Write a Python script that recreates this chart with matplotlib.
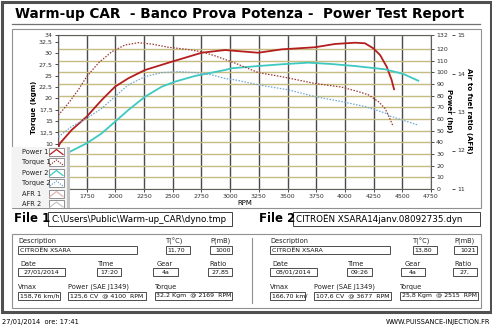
import matplotlib
matplotlib.use("Agg")
import matplotlib.pyplot as plt
from matplotlib.patches import Rectangle

W, H = 492, 329

# ---- curves ----
rpm_p1 = [1500, 1517, 1619, 1750, 1881, 1997, 2113, 2258, 2491, 2752, 2955, 3245,
          3449, 3739, 3913, 4088, 4175, 4247, 4306, 4364, 4407, 4428]
power_1 = [35.1, 39.2, 50.6, 62.0, 76.3, 87.7, 94.9, 102.0, 109.1, 116.8, 119.1, 116.8,
           119.7, 121.5, 124.3, 125.4, 124.9, 120.6, 114.9, 104.8, 93.4, 85.5]

rpm_t1 = [1503, 1590, 1677, 1750, 1851, 1968, 2084, 2200, 2316, 2461, 2635, 2752,
          2868, 3042, 3245, 3449, 3739, 3972, 4117, 4204, 4291, 4349, 4378, 4421]
torque_1 = [16.3, 18.9, 21.9, 24.8, 27.8, 30.3, 31.8, 32.3, 32.0, 31.3, 30.8, 30.3,
            29.4, 27.8, 25.7, 24.8, 23.3, 22.5, 21.5, 20.8, 19.3, 17.8, 16.3, 13.8]

rpm_p2 = [1500, 1605, 1750, 1881, 1997, 2113, 2258, 2404, 2519, 2694, 2839, 2955,
          3013, 3245, 3449, 3681, 3885, 4088, 4349, 4509, 4639]
power_2 = [26.5, 32.0, 39.2, 47.7, 57.7, 67.7, 79.1, 87.7, 92.0, 96.9, 99.7, 102.0,
           103.5, 105.4, 106.9, 108.3, 107.1, 105.4, 102.6, 98.6, 92.8]

rpm_t2 = [1503, 1619, 1750, 1881, 1997, 2113, 2258, 2404, 2548, 2694, 2839, 2955,
          3042, 3245, 3507, 3739, 3972, 4175, 4349, 4393, 4639]
torque_2 = [11.5, 13.8, 15.6, 17.8, 20.4, 23.0, 24.8, 25.7, 25.9, 25.7, 25.2, 24.4,
            24.1, 23.0, 21.9, 20.4, 19.3, 18.2, 16.8, 16.1, 14.1]

rpm_ticks = list(range(1500, 4751, 250))
power_ticks = [0, 10, 20, 30, 40, 50, 60, 70, 80, 90, 100, 110, 120, 132]
torque_ticks = [10, 12.5, 15, 17.5, 20, 22.5, 25, 27.5, 30, 32.5, 34]
afr_ticks = [11, 12, 13, 14, 15]

legend_names = ["Power 1", "Torque 1", "Power 2", "Torque 2", "AFR 1", "AFR 2"]

title = "Warm-up CAR  - Banco Prova Potenza -  Power Test Report"
file_1 = r"C:\Users\Public\Warm-up_CAR\dyno.tmp"
file_2 = "CITROËN XSARA14janv.08092735.dyn"

field_names = ["Description", "T(°C)", "P(mB)", "Date", "Time", "Gear", "Ratio",
               "Vmax", "Power (SAE J1349)", "Torque"]
values_1 = ["CITROËN XSARA", "11,70", "1000", "27/01/2014", "17:20", "4a", "27,85",
            "158,76 km/h", "125,6 CV  @ 4100  RPM", "32,2 Kgm  @ 2169  RPM"]
values_2 = ["CITROËN XSARA", "13,80", "1021", "08/01/2014", "09:26", "4a", "27,",
            "166,70 km/", "107,6 CV  @ 3677  RPM", "25,8 Kgm  @ 2515  RPM"]
footer_left = "27/01/2014  ore: 17:41"
footer_right = "WWW.PUISSANCE-INJECTION.FR"

# ---- colours ----
c_p1, c_t1 = "#b41e1e", "#9a3a30"
c_p2, c_t2 = "#3ec8c2", "#6ea6d6"
c_afr1, c_afr2 = "#e6b4b4", "#c8c8c8"


def box(x0, y0, x1, y1):
    return [x0 / W, 1 - y1 / H, (x1 - x0) / W, (y1 - y0) / H]


fig = plt.figure(figsize=(W / 100, H / 100), dpi=100)

# background layer in pixel coords
bg = fig.add_axes([0, 0, 1, 1], zorder=0)
bg.set_xlim(0, W)
bg.set_ylim(H, 0)
bg.axis("off")

bg.add_patch(Rectangle((1.5, 1.5), W - 3, 310, fill=False, ec="#505050", lw=2.2))
bg.text(15, 14, title, fontsize=9.8, fontweight="bold", va="center", ha="left")
bg.plot([12, 480], [23.5, 23.5], color="#707070", lw=0.9)

# chart panel
bg.add_patch(Rectangle((12, 29), 469, 179, fc="white", ec="#909090", lw=0.8))

# axis titles
bg.text(34, 107, "Torque (kgm)", rotation=90, fontsize=5, fontweight="bold",
        ha="center", va="center")
bg.text(449, 111, "Power (hp)", rotation=270, fontsize=5, fontweight="bold",
        ha="center", va="center")
bg.text(469, 111, "Air to fuel ratio (AFR)", rotation=270, fontsize=5,
        fontweight="bold", ha="center", va="center")
bg.text(245, 203, "RPM", fontsize=5, ha="center", va="center")

# ---- main chart ----
ax_p = fig.add_axes(box(58, 35, 431, 189), zorder=2)
ax_p.set_xlim(1500, 4750)
ax_p.set_ylim(0, 132)
ax_p.set_facecolor("white")
ax_p.set_xticks(rpm_ticks)
ax_p.set_xticklabels([""] + [str(r) for r in rpm_ticks[1:]])
ax_p.set_yticks(power_ticks)
ax_p.grid(axis="y", color="#c4bc80", lw=1.0)
ax_p.grid(axis="x", color="#4a4a4a", lw=1.0)
for s in ax_p.spines.values():
    s.set_color("#606060")
    s.set_linewidth(0.8)

ax_p.plot(rpm_p1, power_1, color=c_p1, lw=1.3, zorder=3)
ax_p.plot(rpm_p2, power_2, color=c_p2, lw=1.3, zorder=3)

ax_t = ax_p.twinx()
ax_t.set_ylim(0, 34)
ax_t.set_yticks(torque_ticks)
ax_t.set_yticklabels([("%g" % t).replace(".", ",") for t in torque_ticks])
for s in ax_t.spines.values():
    s.set_visible(False)
ax_t.plot(rpm_t1, torque_1, color=c_t1, lw=0.9, ls=(0, (1.2, 1.2)))
ax_t.plot(rpm_t2, torque_2, color=c_t2, lw=0.9, ls=(0, (1.2, 1.2)))

ax_a = ax_p.twinx()
ax_a.set_ylim(11, 15)
ax_a.set_yticks(afr_ticks)
ax_a.spines["right"].set_position(("outward", 15))
for s in ax_a.spines.values():
    s.set_visible(False)

# twinx moves the host ticks to the left, so set sides at the end
ax_p.yaxis.tick_right()
ax_t.yaxis.tick_left()
ax_a.yaxis.tick_right()
for a in (ax_p, ax_t, ax_a):
    a.tick_params(axis="both", labelsize=4.5, length=2.5, width=0.6, pad=1.2,
                  colors="#303030")

# ---- legend panel ----
lg = fig.add_axes(box(12, 147, 70, 208), zorder=5)
lg.set_xlim(12, 70)
lg.set_ylim(208, 147)
lg.set_facecolor("#f3f3f3")
lg.set_xticks([])
lg.set_yticks([])
for s in lg.spines.values():
    s.set_visible(False)
lg.add_patch(Rectangle((67, 147), 3, 61, fc="#c4c4c4", ec="none"))
leg_colors = [c_p1, c_t1, c_p2, c_t2, c_afr1, c_afr2]
leg_styles = ["-", (0, (1, 1)), "-", (0, (1, 1)), "-", "-"]
for i, name in enumerate(legend_names):
    yc = 152 + i * 10.5
    lg.text(22, yc, name, fontsize=4.8, va="center", ha="left", color="#202020")
    lg.add_patch(Rectangle((49, yc - 4), 15, 8, fc="white", ec="#808080", lw=0.6))
    lg.plot([50, 56.5, 63], [yc + 2.5, yc - 2.5, yc + 2.5], color=leg_colors[i],
            lw=0.9, ls=leg_styles[i])

# ---- file rows ----
bg.text(14, 219, "File 1", fontsize=8.5, fontweight="bold", va="center")
bg.add_patch(Rectangle((48, 212), 184, 14, fc="white", ec="#404040", lw=0.7))
bg.text(51, 219, file_1, fontsize=6.3, va="center")
bg.text(259, 219, "File 2", fontsize=8.5, fontweight="bold", va="center")
bg.add_patch(Rectangle((293, 212), 187, 14, fc="white", ec="#404040", lw=0.7))
bg.text(296, 219, file_2, fontsize=6.3, va="center")

# ---- info panel ----
bg.add_patch(Rectangle((12, 233.5), 469, 74, fc="white", ec="#909090", lw=0.8))
bg.plot([252, 252], [238, 303], color="#909090", lw=0.8)

row_box_y = [246, 268, 292]
row_lab_y = [241, 264, 287]
field_row = [0, 0, 0, 1, 1, 1, 1, 2, 2, 2]
box_x_1 = [(18, 137), (166, 190), (210, 232), (18, 65), (97, 121), (153, 178),
           (208, 232), (18, 60), (68, 146), (155, 232)]
box_x_2 = [(270, 390), (413, 437), (454, 477), (270, 317), (347, 372), (401, 425),
           (453, 477), (270, 305), (314, 391), (400, 478)]
value_align = ["left", "left", "right", "center", "center", "center", "center",
               "left", "left", "left"]
label_dx = [0, 0, 0, 2, 1, 4, 1, 0, 0, 0]

for boxes, vals in ((box_x_1, values_1), (box_x_2, values_2)):
    for k, name in enumerate(field_names):
        x0, x1 = boxes[k]
        r = field_row[k]
        yb = row_box_y[r]
        bg.text(x0 + label_dx[k], row_lab_y[r], name, fontsize=4.8, va="center",
                ha="left", color="#202020")
        bg.add_patch(Rectangle((x0, yb), x1 - x0, 8, fc="white", ec="#303030", lw=0.6))
        if value_align[k] == "left":
            tx = x0 + 1.5
        elif value_align[k] == "right":
            tx = x1 - 1.5
        else:
            tx = (x0 + x1) / 2
        bg.text(tx, yb + 4, vals[k], fontsize=4.5, va="center", ha=value_align[k],
                color="#101010")

# ---- footer ----
bg.text(2, 322, footer_left, fontsize=4.8, va="center", ha="left")
bg.text(490, 322, footer_right, fontsize=4.8, va="center", ha="right")

fig.savefig("out.png", dpi=100)
